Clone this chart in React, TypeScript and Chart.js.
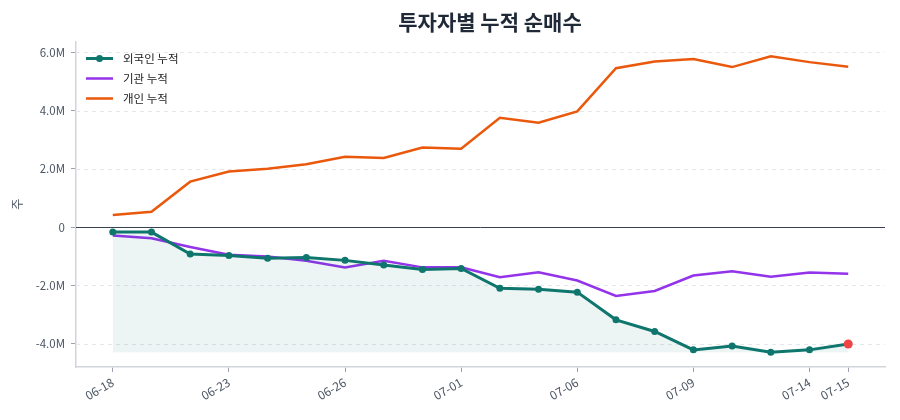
import React, { useEffect, useRef } from 'react';
import { Chart, registerables } from 'chart.js';

Chart.register(...registerables);

const FONT = '"Noto Sans CJK KR", "Noto Sans", sans-serif';

const dates = ['06-18', '06-19', '06-20', '06-23', '06-24', '06-25', '06-26', '06-27', '06-30', '07-01', '07-02', '07-03', '07-06', '07-07', '07-08', '07-09', '07-10', '07-11', '07-14', '07-15'];
const tickIndices = [0, 3, 6, 9, 12, 15, 18, 19];
// cumulative net purchase, in millions of shares
const foreign = [-0.17, -0.17, -0.92, -0.97, -1.07, -1.04, -1.14, -1.30, -1.45, -1.42, -2.10, -2.13, -2.23, -3.18, -3.58, -4.21, -4.08, -4.29, -4.21, -4.01];
const institution = [-0.29, -0.38, -0.68, -0.95, -1.01, -1.15, -1.38, -1.15, -1.38, -1.38, -1.72, -1.55, -1.83, -2.36, -2.19, -1.66, -1.51, -1.70, -1.56, -1.60];
const individual = [0.42, 0.53, 1.56, 1.91, 2.00, 2.16, 2.41, 2.37, 2.73, 2.69, 3.75, 3.58, 3.97, 5.45, 5.68, 5.77, 5.49, 5.86, 5.66, 5.50];
const seriesNames = ['외국인 누적', '기관 누적', '개인 누적'];
const yTicks = [-4, -2, 0, 2, 4, 6];
const title = '투자자별 누적 순매수';
const yTitle = '주';

const TEAL = '#0f766e';
const PURPLE = '#9333ea';
const ORANGE = '#ea580c';
const TICK_COLOR = '#4b5563';
const COLORS = [TEAL, PURPLE, ORANGE];

const gridPlugin = {
  id: 'customGrid',
  beforeDatasetsDraw(chart: any) {
    const { ctx, chartArea, scales } = chart;
    const y = scales.y;
    ctx.save();
    ctx.lineWidth = 1;
    yTicks.forEach((v) => {
      if (v === 0) return;
      const py = Math.round(y.getPixelForValue(v)) + 0.5;
      ctx.strokeStyle = '#e5e7eb';
      ctx.setLineDash([4, 4]);
      ctx.beginPath();
      ctx.moveTo(chartArea.left, py);
      ctx.lineTo(chartArea.right, py);
      ctx.stroke();
    });
    const pz = Math.round(y.getPixelForValue(0)) + 0.5;
    ctx.setLineDash([]);
    ctx.strokeStyle = '#374151';
    ctx.beginPath();
    ctx.moveTo(chartArea.left, pz);
    ctx.lineTo(chartArea.right, pz);
    ctx.stroke();
    ctx.restore();
  },
};

const titleLegendPlugin = {
  id: 'titleLegend',
  afterDraw(chart: any) {
    const { ctx, chartArea } = chart;
    ctx.save();
    // title
    ctx.fillStyle = '#1f2937';
    ctx.font = `bold 21px ${FONT}`;
    ctx.textAlign = 'center';
    ctx.textBaseline = 'middle';
    ctx.fillText(title, 490, 22);
    // legend
    ctx.font = `11.5px ${FONT}`;
    ctx.textAlign = 'left';
    seriesNames.forEach((name, i) => {
      const cy = chartArea.top + 17 + i * 20;
      const x0 = chartArea.left + 10;
      ctx.strokeStyle = COLORS[i];
      ctx.lineWidth = i === 0 ? 3 : 2.5;
      ctx.beginPath();
      ctx.moveTo(x0, cy);
      ctx.lineTo(x0 + 27, cy);
      ctx.stroke();
      if (i === 0) {
        ctx.fillStyle = COLORS[i];
        ctx.beginPath();
        ctx.arc(x0 + 13.5, cy, 3.5, 0, Math.PI * 2);
        ctx.fill();
      }
      ctx.fillStyle = '#222';
      ctx.fillText(name, x0 + 37, cy);
    });
    ctx.restore();
  },
};

export default function App() {
  const ref = useRef<HTMLCanvasElement>(null);

  useEffect(() => {
    if (!ref.current) return;
    const all = [...foreign, ...institution, ...individual];
    const dMax = Math.max(...all);
    const dMin = Math.min(...all);
    const m = (dMax - dMin) * 0.05;
    const fMin = Math.min(...foreign);
    const last = foreign.length - 1;

    const chart = new Chart(ref.current, {
      type: 'line',
      data: {
        datasets: [
          {
            label: seriesNames[0],
            data: foreign.map((v, i) => ({ x: i, y: v })),
            borderColor: TEAL,
            borderWidth: 3,
            backgroundColor: 'rgba(15,118,110,0.08)',
            fill: { value: fMin },
            pointRadius: (c: any) => (c.dataIndex === last ? 4.5 : 3.5),
            pointBackgroundColor: (c: any) => (c.dataIndex === last ? '#ef4444' : TEAL),
            pointBorderWidth: 0,
            tension: 0,
          },
          {
            label: seriesNames[1],
            data: institution.map((v, i) => ({ x: i, y: v })),
            borderColor: PURPLE,
            borderWidth: 2.5,
            pointRadius: 0,
            fill: false,
            tension: 0,
          },
          {
            label: seriesNames[2],
            data: individual.map((v, i) => ({ x: i, y: v })),
            borderColor: ORANGE,
            borderWidth: 2.5,
            pointRadius: 0,
            fill: false,
            tension: 0,
          },
        ],
      },
      options: {
        animation: false,
        responsive: false,
        layout: { padding: { left: 0, right: 15, top: 41.5, bottom: 0 } },
        plugins: {
          title: { display: false },
          legend: { display: false },
          tooltip: { enabled: false },
        },
        scales: {
          x: {
            type: 'linear',
            min: -0.95,
            max: last + 0.95,
            afterBuildTicks: (s: any) => {
              s.ticks = tickIndices.map((v) => ({ value: v }));
            },
            afterFit: (s: any) => {
              s.height = 53;
            },
            ticks: {
              autoSkip: false,
              minRotation: 30,
              maxRotation: 30,
              color: TICK_COLOR,
              font: { family: FONT, size: 12 },
              callback: (v: any) => dates[v as number],
            },
            grid: { drawOnChartArea: false, drawTicks: true, tickLength: 5, tickColor: '#9ca3af' },
            border: { color: '#d1d5db', width: 1.5 },
          },
          y: {
            type: 'linear',
            min: dMin - m,
            max: dMax + m,
            afterBuildTicks: (s: any) => {
              s.ticks = yTicks.map((v) => ({ value: v }));
            },
            afterFit: (s: any) => {
              s.width = 76;
            },
            ticks: {
              color: TICK_COLOR,
              padding: 6,
              font: { family: FONT, size: 11.5 },
              callback: (v: any) => (v === 0 ? '0' : `${(v as number).toFixed(1)}M`),
            },
            title: {
              display: true,
              text: yTitle,
              color: TICK_COLOR,
              font: { family: FONT, size: 12 },
              padding: { top: 10, bottom: 0 },
            },
            grid: { drawOnChartArea: false, drawTicks: true, tickLength: 5, tickColor: '#9ca3af' },
            border: { color: '#d1d5db', width: 1.5 },
          },
        },
      } as any,
      plugins: [gridPlugin, titleLegendPlugin],
    });
    return () => chart.destroy();
  }, []);

  return (
    <div style={{ position: 'absolute', left: 0, top: 0, width: 900, height: 420, background: '#fff' }}>
      <canvas ref={ref} width={900} height={420} style={{ display: 'block' }} />
    </div>
  );
}
